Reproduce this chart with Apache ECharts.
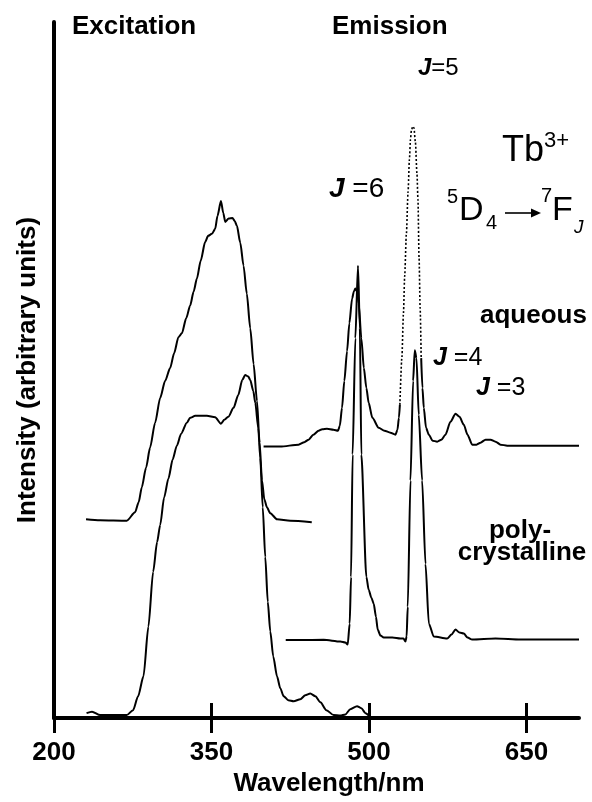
<!DOCTYPE html>
<html>
<head>
<meta charset="utf-8">
<title>Tb3+ excitation / emission</title>
<script src="https://cdn.jsdelivr.net/npm/echarts@6/dist/echarts.min.js"></script>
<style>
    html, body { margin: 0; padding: 0; background: #fff; }
    #main { width: 592px; height: 802px; }
</style>
</head>
<body>
<div id="main"></div>
<script>
// [wavelength nm, intensity (arbitrary units)]
var excAqueous = [
    [230.5,200],[243.9,199],[269.3,198.5],[277.2,207],[280.6,217],[283.6,232],[287.7,252],
    [291.5,272],[296.3,297],[301.1,322],[305.8,339],[310.6,352],[314.4,367],[318.5,383],
    [321.8,387],[325.9,402],[329.7,415],[333.0,429],[336.1,442],[339.7,460],[344.0,479],
    [346.8,485],[350.4,487],[353.5,492],[355.7,505],[359.0,520],[361.2,508],[363.1,499],
    [366.4,502.5],[370.0,503],[372.1,500],[374.2,495],[377.4,478],[380.5,455],[383.6,427],
    [386.9,392],[390.1,356],[393.3,319],[395.8,277],[398.1,239],[400.3,220],[402.8,212],
    [406.0,206],[412.4,200],[425.0,198.5],[445.5,197]
];
var excPoly = [
    [231.0,5],[236.2,6.5],[243.9,3],[269.3,3],[275.3,8],[280.1,22],[285.2,42],[289.9,92],
    [294.4,147],[298.2,177],[301.1,194],[304.9,222],[309.0,241],[313.0,260],[317.0,274],
    [321.1,286],[326.5,297],[329.7,302],[334.5,304],[345.6,304],[353.5,302.5],[359.0,296],
    [362.2,300],[366.0,303],[371.0,312],[375.5,325],[379.3,340],[382.1,345],[385.0,343.5],
    [386.9,340],[389.8,329],[391.7,317],[394.5,292],[396.4,262],[398.8,212],[401.2,162],
    [403.6,117],[406.0,87],[408.8,62],[412.4,42],[415.5,30],[418.7,22],[423.1,18],[428.2,17],
    [434.6,19],[439.3,23],[444.1,24.7],[448.9,22],[453.7,16],[459.4,8],[466.3,3],[472.7,2.5],
    [477.5,3.7],[482.2,9],[488.6,12],[492.7,10],[496.6,5],[501.3,1]
];
var emAqueous = [
    [399.6,273],[415.5,273],[432.9,275],[438.4,277.5],[442.5,280],[447.0,285],[452.0,289],
    [455.5,290.5],[460.0,291],[466.1,290],[470.5,289],[472.2,294],[474.3,312],[476.5,339],
    [479.1,369],[481.3,397],[483.9,422],[485.6,429],[487.0,432],[488.6,429],[490.2,417],
    [492.7,382],[495.1,352],[497.5,332],[499.7,317],[503.2,302],[509.2,292],[514.7,289],
    [520.4,287],[525.2,285],[527.1,290],[528.5,302],[529.4,315]
];
// J=5 peak of the aqueous spectrum, drawn dotted
var emAqueousJ5 = [
    [529.4,315],[531.3,362],[532.8,407],[534.0,445],[535.6,487],[537.2,529],[538.5,562],
    [539.5,582],[540.4,591],[541.7,595],[542.8,593.5],[544.2,579],[545.7,547],[546.6,522],
    [547.7,462],[548.7,412],[549.7,362]
];
var emAqueousTail = [
    [549.7,362],[550.9,332],[552.2,312],[554.3,292],[557.0,285],[560.5,279],[564.9,278],
    [569.0,280],[572.8,285],[577.6,298],[582.4,306],[586.2,303],[590.3,295],[593.8,285],
    [598.3,275],[602.4,275],[606.2,277],[611.0,280],[615.8,280],[620.5,278],[625.3,275],
    [631.6,274],[700,274]
];
var emPoly = [
    [420.7,78.5],[434.6,78.5],[456.8,78.7],[472.7,77],[477.5,76],[479.7,74],[481.6,95],
    [482.9,142],[484.4,265],[487.0,382],[489.5,455],[491.3,392],[492.7,265],[497.5,142],
    [499.7,129],[502.3,121],[504.5,115],[506.6,102],[508.3,89],[510.9,83],[514.0,81],
    [522.3,81],[529.9,80],[532.8,80],[534.7,77],[535.8,82],[536.9,112],[539.5,239],
    [542.0,339],[543.6,370],[545.2,362],[547.4,305],[550.6,239],[553.8,155],[557.0,95],
    [561.7,82],[574.4,80],[578.6,84],[582.4,89],[586.2,86],[590.3,85],[593.8,81],
    [598.3,79],[620.5,80],[644.4,79],[700,79]
];
var xTicks = [200, 350, 500, 650];

var FONT = '"Liberation Sans", Arial, Helvetica, sans-serif';

function spectrum(name, data, dotted) {
    return {
        name: name,
        type: 'line',
        data: data,
        showSymbol: false,
        smooth: 0.25,
        smoothMonotone: 'x',
        lineStyle: {
            color: '#000',
            width: dotted ? 1.6 : 2,
            type: dotted ? [2, 2] : 'solid'
        },
        silent: true
    };
}

// text placed by its baseline
function label(text, x, baseline, size, weight, extra) {
    var el = {
        type: 'text',
        x: x,
        y: baseline - 0.35 * size,
        style: {
            text: text,
            fill: '#000',
            font: (weight || 'normal') + ' ' + size + 'px ' + FONT,
            textAlign: 'left',
            textVerticalAlign: 'middle'
        },
        silent: true
    };
    if (extra) {
        for (var k in extra) el.style[k] = extra[k];
    }
    return el;
}

function jLabel(num, x, baseline, size, gap) {
    return label('{j|J}' + (gap ? ' ' : '') + '{n|=' + num + '}', x, baseline, size, 'normal', {
        rich: {
            j: { fontSize: size, fontWeight: 'bold', fontStyle: 'italic', fontFamily: FONT, fill: '#000' },
            n: { fontSize: size, fontFamily: FONT, fill: '#000' }
        }
    });
}

var chart = echarts.init(document.getElementById('main'));
var option = {
    animation: false,
    backgroundColor: '#fff',
    grid: { left: 54, right: 13, top: 22, bottom: 80 },
    xAxis: [
        {
            type: 'value',
            min: 200,
            max: 700,
            position: 'bottom',
            name: 'Wavelength/nm',
            nameLocation: 'middle',
            nameGap: 49,
            nameTextStyle: { fontFamily: FONT, fontSize: 26, fontWeight: 'bold', color: '#000', padding: [0, 0, 0, 25] },
            axisLine: { lineStyle: { color: '#000', width: 4 } },
            axisTick: { customValues: xTicks, length: 15, lineStyle: { color: '#000', width: 3 } },
            axisLabel: { customValues: xTicks, margin: 22, fontFamily: FONT, fontSize: 26, fontWeight: 'bold', color: '#000' },
            splitLine: { show: false }
        },
        {
            // inward half of the ticks
            type: 'value',
            min: 200,
            max: 700,
            position: 'bottom',
            offset: 0,
            axisLine: { show: false },
            axisTick: { customValues: xTicks, inside: true, length: 15, lineStyle: { color: '#000', width: 3 } },
            axisLabel: { show: false },
            splitLine: { show: false }
        }
    ],
    yAxis: {
        type: 'value',
        min: 0,
        max: 700,
        name: 'Intensity (arbitrary units)',
        nameLocation: 'middle',
        nameGap: 13,
        nameTextStyle: { fontFamily: FONT, fontSize: 26, fontWeight: 'bold', color: '#000' },
        axisLine: { show: true, lineStyle: { color: '#000', width: 4 } },
        axisTick: { show: false },
        axisLabel: { show: false },
        splitLine: { show: false }
    },
    series: [
        spectrum('excitation aqueous', excAqueous),
        spectrum('excitation polycrystalline', excPoly),
        spectrum('emission aqueous', emAqueous),
        spectrum('emission aqueous J=5', emAqueousJ5, true),
        spectrum('emission aqueous tail', emAqueousTail),
        spectrum('emission polycrystalline', emPoly)
    ],
    graphic: [
        label('Excitation', 72, 36, 26, 'bold'),
        label('Emission', 332, 36, 26, 'bold'),
        jLabel(5, 418, 77, 24, false),
        jLabel(6, 329, 199, 28, true),
        jLabel(4, 433, 367, 25, true),
        jLabel(3, 476, 397, 25, true),
        label('Tb', 502, 164, 36),
        label('3+', 544, 149, 22),
        label('5', 447, 204, 20),
        label('D', 459, 223, 34),
        label('4', 486, 230, 20),
        {
            type: 'line',
            shape: { x1: 505, y1: 213, x2: 533, y2: 213 },
            style: { stroke: '#000', lineWidth: 1.6 },
            silent: true
        },
        {
            type: 'polygon',
            shape: { points: [[531, 208.5], [541, 213], [531, 217.5]] },
            style: { fill: '#000' },
            silent: true
        },
        label('7', 541, 203, 20),
        label('F', 552, 223, 34),
        label('J', 574, 234, 19, 'italic'),
        label('aqueous', 480, 325, 26, 'bold'),
        label('poly-', 520, 540, 26, 'bold', { textAlign: 'center' }),
        label('crystalline', 522, 562, 26, 'bold', { textAlign: 'center' })
    ]
};
chart.setOption(option);

window.onresize = function () {
    chart.resize();
};
</script>
</body>
</html>
